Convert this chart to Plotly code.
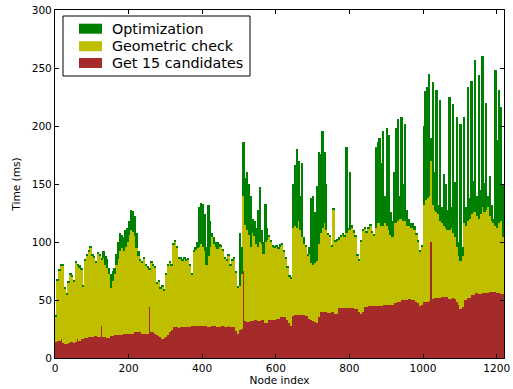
import plotly.graph_objects as go

# Node index (start of each 5-node group)
node_start = list(range(0, 1220, 5))

# Time per stage (ms), one value per 5-node group
candidates_ms = [
    14, 15, 15, 16, 13, 12, 12, 13, 14, 14, 13, 14, 16, 15, 16, 16, 17, 17, 18, 18,
    18, 19, 19, 18, 18, 28, 18, 18, 17, 17, 19, 19, 20, 20, 20, 20, 20, 21, 21, 21,
    21, 21, 21, 22, 22, 22, 22, 21, 21, 21, 21, 44, 22, 22, 21, 20, 19, 18, 16, 17,
    18, 20, 22, 24, 27, 27, 27, 26, 27, 27, 27, 27, 27, 27, 28, 28, 28, 28, 28, 28,
    28, 28, 28, 27, 27, 28, 28, 28, 27, 27, 28, 28, 27, 27, 28, 27, 27, 27, 23, 21,
    24, 25, 75, 32, 31, 31, 32, 32, 33, 33, 32, 32, 33, 33, 30, 30, 33, 33, 33, 33,
    34, 34, 35, 35, 35, 35, 33, 30, 28, 36, 37, 37, 37, 37, 37, 37, 36, 36, 34, 33,
    32, 31, 30, 35, 40, 40, 40, 40, 39, 39, 40, 40, 38, 38, 43, 43, 43, 43, 43, 43,
    43, 43, 43, 42, 42, 40, 38, 40, 44, 44, 45, 45, 45, 45, 45, 45, 45, 45, 46, 46,
    46, 46, 46, 46, 47, 47, 48, 48, 50, 50, 50, 50, 51, 51, 50, 50, 48, 47, 45, 46,
    48, 48, 48, 49, 100, 51, 52, 52, 52, 52, 53, 53, 53, 53, 51, 51, 52, 51, 48, 46,
    42, 44, 50, 50, 52, 52, 54, 54, 56, 56, 55, 55, 56, 56, 56, 56, 57, 57, 57, 57,
    56, 56, 55, 55,
]

geometric_ms = [
    22, 52, 60, 64, 67, 48, 43, 52, 58, 56, 53, 68, 64, 63, 60, 46, 67, 71, 74, 77,
    70, 68, 63, 72, 70, 57, 68, 62, 61, 55, 41, 47, 52, 60, 65, 72, 75, 71, 75, 79,
    85, 89, 88, 83, 73, 66, 62, 61, 65, 59, 57, 32, 60, 58, 57, 44, 47, 42, 46, 41,
    54, 60, 60, 56, 71, 73, 68, 60, 59, 57, 59, 57, 58, 53, 44, 64, 65, 67, 68, 70,
    68, 64, 52, 61, 69, 76, 70, 68, 67, 69, 68, 64, 59, 57, 60, 53, 57, 59, 51, 39,
    38, 47, 65, 83, 79, 75, 64, 76, 72, 65, 64, 68, 65, 57, 70, 72, 71, 67, 63, 62,
    62, 60, 61, 62, 57, 51, 45, 40, 40, 76, 77, 75, 81, 73, 67, 61, 60, 52, 56, 49,
    48, 51, 54, 63, 68, 72, 76, 70, 67, 65, 56, 88, 62, 63, 59, 61, 63, 61, 65, 67,
    67, 69, 65, 62, 46, 44, 62, 70, 68, 64, 67, 69, 63, 61, 67, 71, 71, 69, 68, 70,
    68, 64, 60, 58, 69, 69, 70, 72, 70, 68, 68, 64, 63, 61, 62, 60, 58, 53, 47, 50,
    84, 88, 90, 91, 70, 81, 76, 74, 72, 66, 63, 61, 59, 57, 59, 61, 56, 53, 48, 42,
    42, 44, 66, 64, 66, 68, 70, 72, 70, 66, 65, 69, 74, 70, 72, 74, 65, 61, 59, 57,
    56, 60, 63, 49,
]

optimization_ms = [
    1, 1, 1, 1, 1, 1, 1, 1, 1, 1, 1, 1, 1, 2, 1, 1, 1, 1, 1, 1,
    1, 1, 1, 1, 2, 1, 6, 8, 7, 6, 12, 9, 6, 10, 15, 16, 11, 12, 14, 12,
    12, 18, 18, 17, 13, 4, 1, 1, 1, 1, 1, 1, 1, 1, 1, 1, 1, 1, 1, 1,
    1, 1, 1, 1, 1, 1, 1, 1, 1, 1, 1, 1, 1, 1, 1, 1, 3, 5, 34, 36,
    37, 32, 16, 44, 22, 4, 6, 4, 6, 2, 1, 2, 1, 1, 1, 1, 1, 1, 1, 2,
    46, 24, 46, 40, 50, 44, 44, 12, 13, 14, 32, 47, 12, 10, 33, 10, 2, 2, 1, 1,
    1, 1, 2, 2, 1, 1, 1, 1, 2, 38, 52, 68, 52, 30, 64, 6, 1, 1, 6, 56,
    60, 44, 64, 80, 68, 84, 62, 40, 2, 2, 1, 1, 1, 2, 2, 2, 2, 2, 74, 2,
    50, 3, 2, 2, 1, 1, 1, 1, 1, 1, 1, 1, 1, 1, 70, 70, 74, 54, 82, 24,
    84, 82, 20, 14, 44, 82, 88, 20, 88, 32, 84, 14, 6, 4, 4, 4, 2, 1, 1, 1,
    68, 94, 96, 105, 20, 106, 32, 105, 8, 104, 14, 45, 38, 18, 115, 18, 111, 48, 112, 12,
    118, 8, 92, 16, 116, 18, 115, 27, 131, 18, 124, 21, 130, 25, 92, 10, 35, 14, 4, 134,
    76, 115, 98, 46,
]

series_names = ["Optimization", "Geometric check", "Get 15 candidates"]
series_colors = ["#008000", "#BFBF00", "#A52A2A"]

bin_width = [5] * len(node_start)
bar_center = [s + w / 2 for s, w in zip(node_start, bin_width)]

font_family = "DejaVu Sans"
tick_font = dict(family=font_family, size=10.6, color="black")

fig = go.Figure()
for vals, name, color in zip([candidates_ms, geometric_ms, optimization_ms],
                             series_names[::-1], series_colors[::-1]):
    fig.add_trace(go.Bar(x=bar_center, y=vals, width=bin_width, name=name,
                         marker=dict(color=color, line=dict(width=0)),
                         showlegend=False))

# Legend drawn in paper coordinates (matplotlib-style wide patches)
W, H = 449.0, 348.0          # plot area size in px
X0, Y0 = 55.0, 358.0         # plot area left / bottom in px


def px(x):
    return (x - X0) / W


def py(y):
    return (Y0 - y) / H


shapes = [dict(type="rect", xref="paper", yref="paper",
               x0=px(63), x1=px(250), y0=py(76), y1=py(16),
               line=dict(color="black", width=1), fillcolor="white", layer="above")]
annotations = []
row_centers = [28.7, 46.2, 63.0]
for name, color, yc in zip(series_names, series_colors, row_centers):
    shapes.append(dict(type="rect", xref="paper", yref="paper",
                       x0=px(79), x1=px(102), y0=py(yc + 5), y1=py(yc - 5),
                       line=dict(width=0), fillcolor=color, layer="above"))
    annotations.append(dict(text=name, xref="paper", yref="paper",
                            x=px(110), y=py(yc), xanchor="left", yanchor="middle",
                            showarrow=False,
                            font=dict(family=font_family, size=14.3, color="black")))

axis_common = dict(showline=True, linecolor="black", linewidth=1, mirror="allticks",
                   ticks="inside", ticklen=4, tickwidth=1, tickcolor="black",
                   showgrid=False, zeroline=False, tickfont=tick_font,
                   automargin=False)

fig.update_layout(
    width=513, height=389,
    margin=dict(l=55, r=9, t=10, b=31),
    paper_bgcolor="white", plot_bgcolor="white",
    barmode="stack", bargap=0,
    font=dict(family=font_family, color="black"),
    showlegend=False,
    shapes=shapes,
    annotations=annotations,
    xaxis=dict(range=[0, 1220], tickmode="array",
               tickvals=[0, 200, 400, 600, 800, 1000, 1200],
               title=dict(text="Node index", font=dict(family=font_family, size=10.6),
                          standoff=3),
               **axis_common),
    yaxis=dict(range=[0, 300], tickmode="array",
               tickvals=[0, 50, 100, 150, 200, 250, 300],
               title=dict(text="Time (ms)", font=dict(family=font_family, size=10.6),
                          standoff=8),
               **axis_common),
)

fig.write_html("out.html")
